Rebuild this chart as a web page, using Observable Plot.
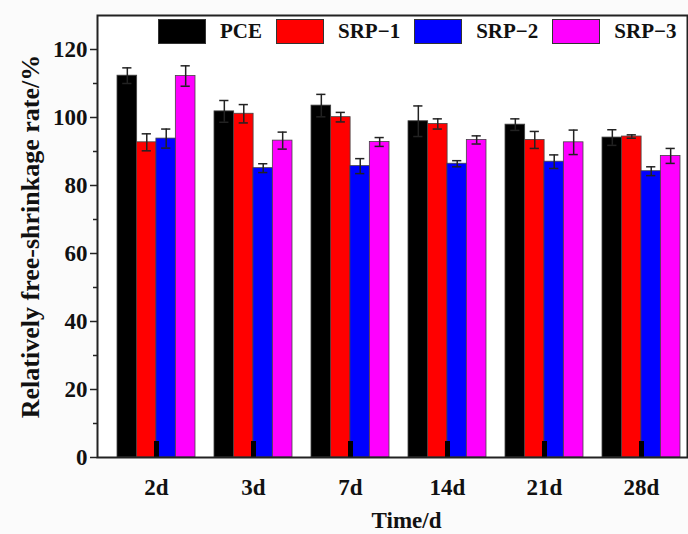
<!DOCTYPE html>
<html>
<head>
<meta charset="utf-8">
<script src="https://cdn.jsdelivr.net/npm/d3@7"></script>
<script src="https://cdn.jsdelivr.net/npm/@observablehq/plot@0.6"></script>
<style>
  html, body { margin: 0; padding: 0; background: #fbfbfb; }
  #wrap { position: relative; width: 688px; height: 534px; font-family: "Liberation Serif", "Times New Roman", serif; }
  #legend { position: absolute; left: 158px; top: 19px; display: flex; align-items: center; font-weight: bold; font-size: 21px; color: #111; }
  .sw { width: 46px; height: 23px; border: 1.5px solid #333; box-sizing: content-box; }
  .lab { margin-left: 14px; margin-right: 14px; }
</style>
</head>
<body>
<div id="wrap"><div id="chart"></div><div id="legend"></div></div>
<script>
const times = ["2d", "3d", "7d", "14d", "21d", "28d"];
const series = ["PCE", "SRP\u22121", "SRP\u22122", "SRP\u22123"];
const colors = ["#000000", "#ff0000", "#0000ff", "#ff00ff"];
const PCE   = [112.3, 101.8, 103.5, 98.9, 97.9, 94.1];
const SRP1  = [92.7, 101.1, 100.1, 98.1, 93.4, 94.4];
const SRP2  = [93.8, 85.1, 85.7, 86.4, 87.0, 84.2];
const SRP3  = [112.2, 93.2, 92.8, 93.4, 92.7, 88.7];
const errPCE  = [2.3, 3.2, 3.3, 4.5, 1.7, 2.3];
const errSRP1 = [2.5, 2.7, 1.4, 1.5, 2.5, 0.5];
const errSRP2 = [2.8, 1.3, 2.2, 0.9, 2.0, 1.3];
const errSRP3 = [3.0, 2.5, 1.3, 1.2, 3.6, 2.2];
const yTicks = [0, 20, 40, 60, 80, 100, 120];
const yMinor = [10, 30, 50, 70, 90, 110];
const yLabel = "Relatively free-shrinkage rate/%";
const xLabel = "Time/d";

const vals = [PCE, SRP1, SRP2, SRP3];
const errs = [errPCE, errSRP1, errSRP2, errSRP3];
const data = [];
series.forEach((s, i) => times.forEach((t, j) => data.push({time: t, series: s, idx: i, v: vals[i][j], e: errs[i][j]})));

const W = 688, H = 534, mL = 97, mR = 1, mT = 15, mB = 77;
const r0 = 116, r1 = 680, pInner = 0.2;
const step = (r1 - r0) / (times.length - pInner);
const bw = step * (1 - pInner);
const q = bw / series.length;
const capHalf = 4.5;

const marks = [Plot.frame({fill: "white"})];
series.forEach((s, i) => {
  const sub = data.filter(d => d.series === s);
  marks.push(Plot.barY(sub, {x: "time", y: "v", fill: colors[i], stroke: "#444", strokeWidth: 0.8,
    insetLeft: i * q, insetRight: (series.length - 1 - i) * q}));
});
series.forEach((s, i) => {
  const sub = data.filter(d => d.series === s);
  const dx = -bw / 2 + (i + 0.5) * q;
  marks.push(Plot.ruleX(sub, {x: "time", y1: d => d.v - d.e, y2: d => d.v + d.e, dx, stroke: "#222", strokeWidth: 1.5}));
  const capL = i * q + q / 2 - capHalf, capR = (series.length - 1 - i) * q + q / 2 - capHalf;
  marks.push(Plot.tickY(sub, {x: "time", y: d => d.v + d.e, stroke: "#222", strokeWidth: 1.5, insetLeft: capL, insetRight: capR}));
  marks.push(Plot.tickY(sub, {x: "time", y: d => d.v - d.e, stroke: "#222", strokeWidth: 1.5, insetLeft: capL, insetRight: capR}));
});
marks.push(Plot.ruleX(times, {x: d => d, stroke: "#000", strokeWidth: 5, insetTop: (H - mT - mB) - 16}));
marks.push(Plot.axisY({ticks: yTicks, tickSize: 7, tickPadding: 3, fontSize: 23, fontWeight: "bold", stroke: "#222", strokeWidth: 1.5, label: null}));
marks.push(Plot.axisY({ticks: yMinor, tickSize: 4, text: null, label: null, stroke: "#222", strokeWidth: 1.5}));
marks.push(Plot.axisX({tickSize: 0, tickPadding: 21, fontSize: 23, fontWeight: "bold", label: null}));
marks.push(Plot.text([yLabel], {frameAnchor: "left", rotate: -90, dx: -67, textAnchor: "middle", lineAnchor: "middle", fontSize: 26, fontWeight: "bold", fill: "#111"}));
marks.push(Plot.text([xLabel], {frameAnchor: "bottom", dy: 63, dx: 14, lineAnchor: "middle", fontSize: 23, fontWeight: "bold", fill: "#111"}));
marks.push(Plot.frame({stroke: "#222", strokeWidth: 2}));

const chart = Plot.plot({
  width: W, height: H, marginLeft: mL, marginRight: mR, marginTop: mT, marginBottom: mB,
  style: {fontFamily: "'Liberation Serif', 'Times New Roman', serif", background: "transparent", color: "#111"},
  x: {type: "band", domain: times, range: [r0, r1], paddingInner: pInner, paddingOuter: 0},
  y: {domain: [0, 130]},
  marks
});
document.getElementById("chart").appendChild(chart);

const leg = document.getElementById("legend");
series.forEach((s, i) => {
  const sw = document.createElement("div"); sw.className = "sw"; sw.style.background = colors[i];
  const lab = document.createElement("span"); lab.className = "lab"; lab.textContent = s;
  leg.appendChild(sw); leg.appendChild(lab);
});
</script>
</body>
</html>
